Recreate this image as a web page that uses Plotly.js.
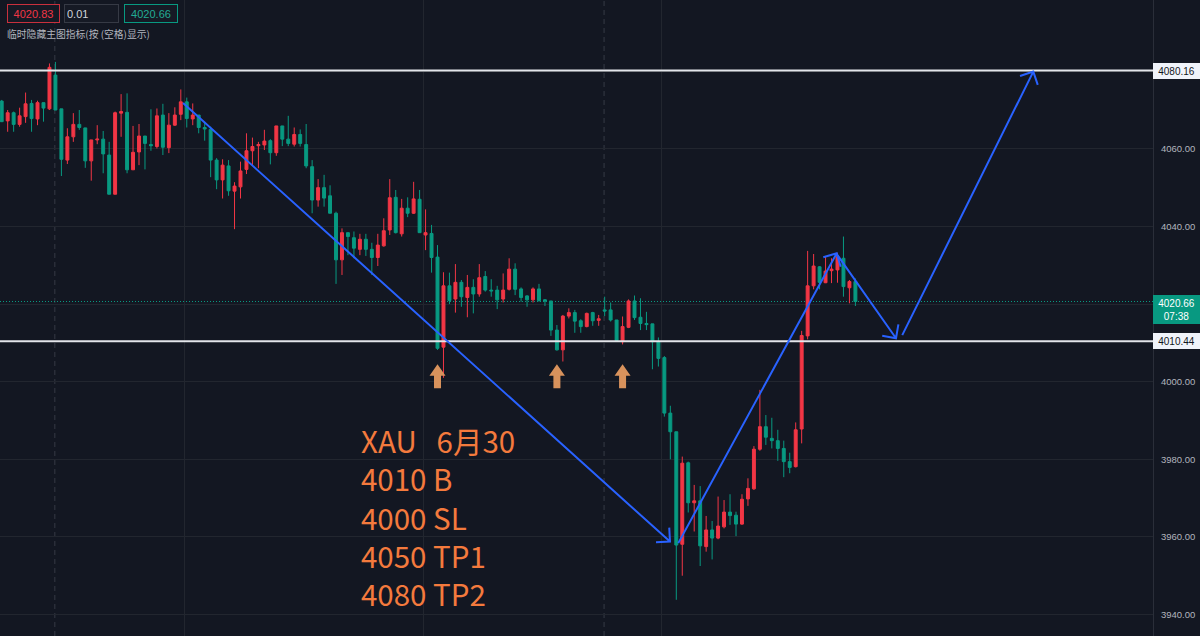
<!DOCTYPE html>
<html><head><meta charset="utf-8">
<script src="https://cdn.plot.ly/plotly-3.0.1.min.js"></script>
<style>html,body{margin:0;padding:0;background:#131722;overflow:hidden;}#chart{width:1200px;height:636px;}</style>
</head><body><div id="chart"></div>
<script>
// ---- data (index = candle number) ----
const opens = [4072.3,4067.2,4069.3,4066.3,4068.3,4071.7,4067.7,4071.9,4070.3,4079.0,
4070.3,4057.1,4063.1,4066.3,4065.4,4056.9,4062.3,4062.5,4058.4,4048.3,
4069.2,4069.4,4054.6,4059.2,4063.3,4061.1,4060.6,4068.7,4060.3,4066.1,
4068.9,4072.1,4067.7,4068.7,4065.5,4065.0,4057.1,4052.0,4055.6,4049.1,
4050.2,4054.7,4059.5,4060.8,4061.0,4062.1,4059.0,4065.9,4062.5,4061.2,
4063.7,4061.1,4055.4,4046.8,4050.0,4047.9,4043.4,4031.4,4038.4,4037.1,
4034.1,4036.7,4034.1,4032.0,4035.0,4039.1,4047.5,4038.1,4044.7,4043.4,
4047.0,4037.8,4038.2,4032.1,4008.9,4024.7,4021.3,4025.6,4021.7,4024.3,
4022.6,4027.1,4023.6,4023.6,4021.3,4023.8,4029.0,4023.9,4022.1,4021.1,
4023.9,4021.1,4020.8,4013.3,4008.2,4016.9,4017.8,4015.7,4014.2,4017.8,
4015.8,4018.5,4018.5,4015.9,4010.3,4014.0,4020.8,4016.6,4015.0,4014.9,
4010.3,4006.2,3991.9,3987.1,3958.1,3979.1,3968.8,3969.3,3957.5,3961.8,
3959.7,3962.6,3966.4,3965.6,3963.3,3969.8,3972.4,3982.6,3988.4,3985.4,
3984.8,3982.8,3979.4,3978.1,3987.8,4011.8,4024.7,4029.6,4025.5,4028.6,
4028.8,4031.8,4024.2,4025.8];
const highs = [4072.6,4070.0,4069.6,4070.6,4074.5,4072.6,4072.4,4071.9,4082.0,4082.4,
4070.3,4065.3,4069.2,4070.0,4065.4,4062.3,4066.1,4064.6,4061.8,4069.6,
4074.1,4074.3,4065.9,4066.4,4063.3,4070.2,4070.4,4071.6,4069.2,4070.7,
4075.3,4073.2,4071.7,4068.7,4067.0,4065.7,4057.6,4057.3,4057.1,4051.4,
4056.7,4064.0,4062.9,4061.8,4064.9,4062.5,4065.9,4065.9,4068.5,4065.5,
4065.0,4066.4,4057.1,4052.2,4053.3,4050.6,4043.8,4039.5,4038.4,4038.7,
4038.1,4038.1,4035.8,4038.1,4042.1,4052.2,4049.4,4047.1,4047.5,4051.5,
4049.4,4044.4,4040.4,4035.2,4028.2,4028.1,4030.3,4026.2,4027.5,4026.4,
4030.3,4028.5,4026.4,4024.7,4027.9,4031.8,4030.5,4024.3,4022.3,4024.3,
4025.2,4021.3,4020.8,4014.6,4017.2,4018.9,4018.5,4016.1,4017.8,4018.0,
4017.2,4021.9,4020.4,4015.9,4016.8,4021.2,4022.2,4021.5,4018.0,4014.9,
4011.4,4006.6,3993.8,3987.1,3980.7,3979.4,3973.4,3973.1,3965.4,3964.1,
3970.4,3969.5,3971.0,3966.5,3971.0,3975.1,3983.4,3997.9,3991.4,3990.7,
3987.6,3984.8,3981.7,3989.5,4013.1,4033.7,4032.9,4029.8,4032.4,4031.8,
4033.2,4037.4,4026.2,4026.6];
const lows = [4066.9,4064.4,4064.4,4065.7,4066.7,4064.4,4066.1,4067.0,4070.0,4070.0,
4053.0,4056.1,4061.8,4064.9,4055.1,4051.8,4061.2,4053.7,4048.3,4048.3,
4063.1,4053.7,4054.6,4055.8,4054.7,4059.5,4060.1,4058.4,4058.9,4065.9,
4067.4,4065.5,4066.1,4064.0,4062.1,4052.7,4049.6,4047.2,4047.9,4039.3,
4047.2,4053.5,4055.8,4055.0,4059.7,4056.0,4058.2,4060.7,4060.7,4060.6,
4060.6,4055.0,4043.4,4045.1,4045.1,4043.4,4025.2,4027.5,4032.6,4031.8,
4032.6,4032.4,4027.5,4029.8,4034.8,4037.8,4038.2,4037.4,4042.4,4043.2,
4038.4,4033.9,4028.1,4008.2,4001.0,4020.0,4017.8,4019.3,4016.6,4017.6,
4021.9,4023.2,4021.9,4018.7,4020.4,4023.5,4022.3,4020.6,4019.3,4020.4,
4020.6,4019.5,4011.8,4008.0,4005.2,4016.3,4012.6,4012.6,4014.0,4014.4,
4014.4,4016.9,4015.5,4010.3,4009.6,4013.8,4015.9,4013.3,4013.3,4003.2,
4003.9,3991.0,3980.0,3943.8,3950.0,3966.3,3961.4,3952.5,3956.2,3954.2,
3959.4,3962.2,3963.1,3960.2,3963.1,3968.0,3972.1,3982.2,3983.7,3982.8,
3979.6,3975.4,3976.4,3977.9,3984.1,4010.9,4023.8,4023.8,4025.4,4025.4,
4025.5,4021.9,4020.2,4019.5];
const closes = [4067.0,4069.3,4066.3,4068.5,4071.6,4067.8,4071.9,4070.5,4081.0,4070.0,
4057.3,4063.1,4066.3,4065.5,4056.9,4062.3,4062.5,4058.7,4048.3,4069.3,
4069.6,4054.6,4059.1,4063.3,4061.4,4060.8,4068.5,4060.4,4066.1,4068.7,
4072.1,4067.8,4068.7,4065.5,4065.1,4057.1,4052.0,4055.8,4049.2,4050.4,
4054.3,4059.5,4060.6,4061.1,4062.0,4059.0,4065.9,4062.5,4061.4,4063.7,
4061.4,4055.6,4046.8,4050.0,4047.3,4043.4,4031.4,4038.4,4037.4,4034.4,
4036.7,4034.1,4032.0,4035.2,4038.9,4047.4,4038.4,4044.7,4043.4,4047.1,
4038.4,4038.4,4032.0,4008.6,4024.7,4020.9,4025.6,4021.9,4024.3,4022.6,
4026.8,4023.6,4023.4,4021.1,4023.6,4029.0,4023.8,4021.7,4021.1,4023.9,
4020.9,4020.8,4013.3,4008.2,4016.9,4017.8,4015.6,4014.2,4017.6,4015.7,
4016.2,4018.2,4015.9,4010.6,4014.2,4020.8,4016.5,4015.0,4014.7,4010.3,
4006.0,3991.9,3987.1,3957.9,3979.0,3968.8,3969.3,3957.7,3961.8,3959.7,
3962.8,3966.4,3965.5,3963.3,3969.7,3972.5,3982.6,3988.4,3985.7,3984.8,
3982.8,3979.4,3977.9,3987.6,4011.9,4024.7,4029.8,4025.6,4028.5,4029.0,
4032.2,4024.5,4025.8,4020.66];

const levels = [4080.16, 4010.44];
const lastPrice = 4020.66;
const countdown = '07:38';
const yTicks = [3940, 3960, 3980, 4000, 4020, 4040, 4060, 4080];
const hiddenTickLabels = [4020, 4080];   // covered by price tags in the reference
const timeGrid = [30.7, 70.6, 110.6];
const sessionBreaks = [8.9, 100.9];
const buyArrowIdx = [73, 93, 104];
const buyArrowTop = 4004.5;
const noteLines = ['XAU\u00a0\u00a0\u00a06月30', '4010 B', '4000 SL', '4050 TP1', '4080 TP2'];
// trend arrows: [startIdx, startPrice, endIdx, endPrice]
const trendArrows = [[30.37, 4071.8, 111.94, 3958.8], [113.33, 3958.4, 139.87, 4033.1],
                     [140.0, 4032.6, 149.8, 4011.2], [150.85, 4012.0, 172.8, 4079.9]];
const headerVals = ['4020.83', '0.01', '4020.66'];
const headerNote = '临时隐藏主图指标(按 (空格)显示)';

// ---- geometry ----
const W = 1200, H = 636, R = 47;
const plotW = W - R, plotH = H;
const xr = [-0.285, 192.85];
const yr = [3934.47, 4098.35];
const pxX = plotW / (xr[1] - xr[0]);
const pxY = plotH / (yr[1] - yr[0]);
const px2x = p => p / plotW;
const py2y = p => 1 - p / plotH;

const idx = opens.map((_, i) => i);

const trace = {
  type: 'candlestick', x: idx, open: opens, high: highs, low: lows, close: closes,
  increasing: {line: {color: '#f23645', width: 1}, fillcolor: '#f23645'},
  decreasing: {line: {color: '#089981', width: 1}, fillcolor: '#089981'},
  hoverinfo: 'none', showlegend: false
};

const shapes = [];
sessionBreaks.forEach(v => shapes.push({type: 'line', xref: 'x', yref: 'paper', x0: v, x1: v, y0: 0, y1: 1,
  line: {color: '#363a45', width: 1, dash: '5px,4px'}, layer: 'below'}));
shapes.push({type: 'line', xref: 'paper', yref: 'y', x0: 0, x1: 1, y0: lastPrice, y1: lastPrice,
  line: {color: '#089981', width: 1, dash: '1px,2px'}, layer: 'below'});
levels.forEach(v => shapes.push({type: 'line', xref: 'paper', yref: 'y', x0: 0, x1: 1, y0: v, y1: v,
  line: {color: '#e3e5ea', width: 2}}));

trendArrows.forEach(a => {
  const [x0, y0, x1, y1] = a;
  const dx = (x0 - x1) * pxX, dy = (y0 - y1) * pxY;
  const ang = Math.atan2(dy, dx), L = 14;
  const b = [ang + Math.PI / 4, ang - Math.PI / 4].map(t => [x1 + Math.cos(t) * L / pxX, y1 + Math.sin(t) * L / pxY]);
  const path = `M${x0},${y0} L${x1},${y1} M${b[0][0]},${b[0][1]} L${x1},${y1} L${b[1][0]},${b[1][1]}`;
  shapes.push({type: 'path', xref: 'x', yref: 'y', path: path, line: {color: '#2962ff', width: 2}});
});

buyArrowIdx.forEach(c => {
  const sx = 1 / pxX, sy = 1 / pxY, t = buyArrowTop;
  const pts = [[c, t], [c + 8 * sx, t - 11.5 * sy], [c + 3.5 * sx, t - 11.5 * sy], [c + 3.5 * sx, t - 24 * sy],
               [c - 3.5 * sx, t - 24 * sy], [c - 3.5 * sx, t - 11.5 * sy], [c - 8 * sx, t - 11.5 * sy]];
  const path = 'M' + pts.map(p => p[0] + ',' + p[1]).join(' L') + ' Z';
  shapes.push({type: 'path', xref: 'x', yref: 'y', path: path, fillcolor: '#d8925c', line: {width: 0}});
});

const annotations = [];
annotations.push({xref: 'paper', yref: 'paper', x: px2x(359), y: py2y(516), xanchor: 'left', yanchor: 'middle',
  align: 'left', text: noteLines.join('<br>'), showarrow: false,
  font: {family: 'Noto Sans CJK SC', size: 29.5, color: '#f47a3d'}});

const hdr = [{x: 7, w: 47, c: '#f23645', b: '#c9303d', al: 'center'}, {x: 64, w: 49, c: '#d1d4dc', b: '#363a45', al: 'left'},
             {x: 124, w: 48, c: '#22ab94', b: '#089981', al: 'center'}];
headerVals.forEach((t, i) => annotations.push({xref: 'paper', yref: 'paper', x: px2x(hdr[i].x), y: py2y(4),
  xanchor: 'left', yanchor: 'top', text: t, showarrow: false, align: hdr[i].al, width: hdr[i].w, height: 13,
  bgcolor: '#161a25', bordercolor: hdr[i].b, borderwidth: 1, borderpad: 2,
  font: {family: 'Liberation Sans', size: 11, color: hdr[i].c}}));
annotations.push({xref: 'paper', yref: 'paper', x: px2x(5), y: py2y(33.5), xanchor: 'left', yanchor: 'middle',
  text: headerNote, showarrow: false, font: {family: 'Noto Sans CJK SC', size: 9.8, color: '#b2b5be'}});

levels.forEach(v => annotations.push({xref: 'paper', yref: 'y', x: 1, y: v, xanchor: 'left', yanchor: 'middle',
  text: v.toFixed(2), showarrow: false, width: 45, height: 14, borderpad: 1, borderwidth: 0, bgcolor: '#f0f3fa',
  font: {family: 'Liberation Sans', size: 10, color: '#131722'}}));
annotations.push({xref: 'paper', yref: 'y', x: 1, y: lastPrice, xanchor: 'left', yanchor: 'top', yshift: 7,
  text: lastPrice.toFixed(2) + '<br>' + countdown, showarrow: false, width: 45, height: 27, borderpad: 1, borderwidth: 0,
  bgcolor: '#089981', font: {family: 'Liberation Sans', size: 10, color: '#ffffff'}});

const layout = {
  width: W, height: H, margin: {l: 0, r: R, t: 0, b: 0, pad: 0},
  paper_bgcolor: '#131722', plot_bgcolor: '#131722', showlegend: false,
  xaxis: {range: xr, showticklabels: false, tickmode: 'array', tickvals: timeGrid, showgrid: true,
    gridcolor: '#22262f', gridwidth: 1, zeroline: false, showline: false, ticks: '', rangeslider: {visible: false}, fixedrange: true},
  yaxis: {range: yr, side: 'right', tickmode: 'array', tickvals: yTicks,
    ticktext: yTicks.map(v => hiddenTickLabels.includes(v) ? '' : v.toFixed(2)),
    showgrid: true, gridcolor: '#22262f', gridwidth: 1, zeroline: false, showline: true, linecolor: '#2a2e39', linewidth: 1,
    ticks: '', ticklabelstandoff: 5, tickfont: {family: 'Liberation Sans', size: 9.5, color: '#b2b5be'}, fixedrange: true},
  shapes: shapes, annotations: annotations
};

Plotly.newPlot('chart', [trace], layout, {staticPlot: true, displayModeBar: false});
</script>
</body></html>
